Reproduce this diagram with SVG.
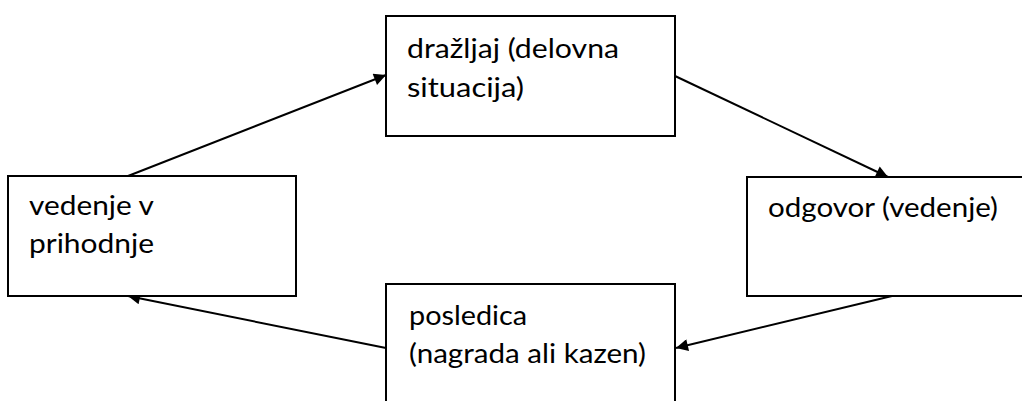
<svg xmlns="http://www.w3.org/2000/svg" width="1022" height="401" viewBox="0 0 1022 401">
  <style>
    .box { fill: #ffffff; stroke: #000000; stroke-width: 2; }
    .label { font-family: Lato, "Open Sans", "Liberation Sans", sans-serif; font-size: 26px; fill: #000000; }
    .edge { stroke: #000000; stroke-width: 2; fill: none; marker-end: url(#arrow); }
  </style>
  <defs>
    <marker id="arrow" viewBox="0 0 10 10" refX="10" refY="5" markerWidth="16" markerHeight="12" markerUnits="userSpaceOnUse" orient="auto">
      <path d="M0,0 L10,5 L0,10 z" fill="#000000"/>
    </marker>
  </defs>
  <rect width="1022" height="401" fill="#ffffff"/>

  <g id="connectors">
    <line class="edge" x1="128" y1="176" x2="386" y2="75"/>
    <line class="edge" x1="675" y1="76" x2="888" y2="177"/>
    <line class="edge" x1="892" y1="296" x2="676" y2="348"/>
    <line class="edge" x1="386" y1="348" x2="128" y2="296"/>
  </g>

  <g id="node-drazljaj">
    <rect class="box" x="386" y="16" width="289" height="120"/>
    <text class="label" x="407" y="58" textLength="212" lengthAdjust="spacingAndGlyphs">dražljaj (delovna</text>
    <text class="label" x="407" y="97" textLength="117" lengthAdjust="spacingAndGlyphs">situacija)</text>
  </g>

  <g id="node-vedenje-v-prihodnje">
    <rect class="box" x="8" y="176" width="288" height="120"/>
    <text class="label" x="29" y="215" textLength="125" lengthAdjust="spacingAndGlyphs">vedenje v</text>
    <text class="label" x="29" y="253" textLength="125" lengthAdjust="spacingAndGlyphs">prihodnje</text>
  </g>

  <g id="node-odgovor">
    <rect class="box" x="747" y="177" width="290" height="119"/>
    <text class="label" x="768" y="217" textLength="230" lengthAdjust="spacingAndGlyphs">odgovor (vedenje)</text>
  </g>

  <g id="node-posledica">
    <rect class="box" x="386" y="284" width="289" height="130"/>
    <text class="label" x="409" y="325" textLength="118" lengthAdjust="spacingAndGlyphs">posledica</text>
    <text class="label" x="409" y="363" textLength="237" lengthAdjust="spacingAndGlyphs">(nagrada ali kazen)</text>
  </g>
</svg>
